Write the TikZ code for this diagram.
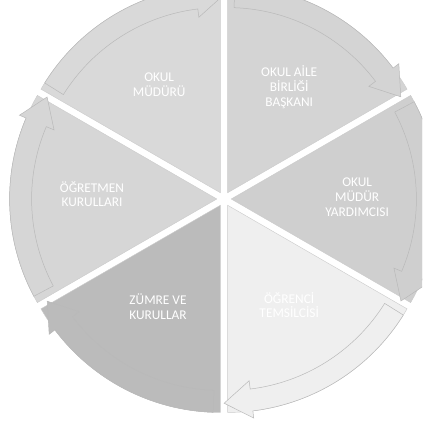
\documentclass[tikz,border=0pt]{standalone}
\usepackage{fontspec}
\setmainfont{Carlito}
\usepackage{xcolor}
\usepackage{tikz}
\usetikzlibrary{calc}
\definecolor{segA}{HTML}{D9D9D9}
\definecolor{segB}{HTML}{D4D4D4}
\definecolor{segC}{HTML}{CFCFCF}
\definecolor{segD}{HTML}{EFEFEF}
\definecolor{segE}{HTML}{BBBBBB}
\definecolor{segF}{HTML}{D6D6D6}
\tikzset{
  segwedge/.style={draw=gray!40, line width=0.3pt},
  rimarrow/.style={draw=gray!55, line width=0.35pt},
  seglabel/.style={text=white, font=\fontsize{9.5}{10.5}\selectfont,
                   align=center, inner sep=1pt}
}

\begin{document}
\begin{tikzpicture}
    \def\R{5.18} \def\Ri{4.63} \def\Rm{4.95} \def\Rh{4.42} \def\Ro{5.36} \def\gap{0.18}
    \useasboundingbox (-5.6,-5.625) rectangle (4.95,4.975);
    \clip (-5.6,-5.625) rectangle (4.95,4.975);

    % pie wedges
    \foreach \s/\col in {150/segA, 90/segB, 30/segC, -30/segD, -90/segE, -150/segF}{
      \pgfmathsetmacro\e{\s-60}
      \pgfmathsetmacro\b{\s-30}
      \begin{scope}[shift={(\b:\gap)}]
        \filldraw[segwedge, fill=\col] (0,0) -- (\s:\R)
          arc[start angle=\s, end angle=\e, radius=\R] -- cycle;
      \end{scope}
    }

    % arrows on the rim (clockwise)
    \foreach \s/\col in {150/segA, 90/segB, 30/segC, -30/segD, -90/segE, -150/segF}{
      \pgfmathsetmacro\e{\s-60}
      \pgfmathsetmacro\b{\s-30}
      \begin{scope}[shift={(\b:\gap)}]
        \filldraw[rimarrow, fill=\col] (\s-2:\R)
          arc[start angle=\s-2, end angle=\e+7, radius=\R]
          -- (\e+7:\Ro) -- (\e-1:\Rm) -- (\e+7:\Rh) -- (\e+7:\Ri)
          arc[start angle=\e+7, end angle=\s-2, radius=\Ri] -- cycle;
      \end{scope}
    }

    % labels
    \node[seglabel] (mudur)    at (-1.62, 2.85) {OKUL\\MÜDÜRÜ};
    \node[seglabel] (aile)     at (1.63, 2.8)   {OKUL AİLE\\BİRLİĞİ\\BAŞKANI};
    \node[seglabel] (yardimci) at (3.33, 0.05)  {OKUL\\MÜDÜR\\YARDIMCISI};
    \node[seglabel] (ogrenci)  at (1.63, -2.65) {ÖĞRENCİ\\TEMSİLCİSİ};
    \node[seglabel] (zumre)    at (-1.65, -2.7) {ZÜMRE VE\\KURULLAR};
    \node[seglabel] (ogretmen) at (-3.3, 0.12)  {ÖĞRETMEN\\KURULLARI};
\end{tikzpicture}
\end{document}
